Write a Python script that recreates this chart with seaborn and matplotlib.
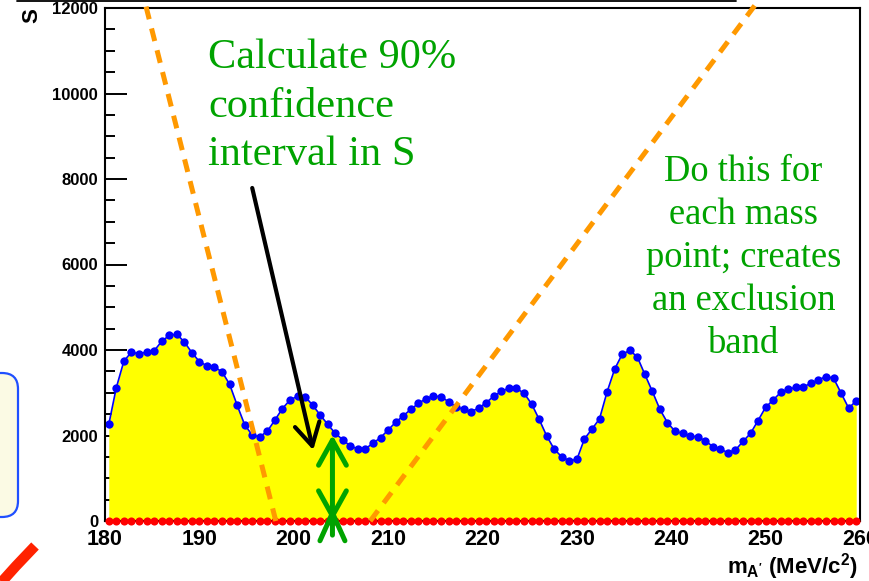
import numpy as np
import matplotlib
matplotlib.use("Agg")
import matplotlib.pyplot as plt
from matplotlib.patches import FancyBboxPatch
from matplotlib.lines import Line2D
from matplotlib.ticker import MultipleLocator, FixedLocator
import seaborn as sns

# Mass points (MeV/c^2): centres of the 0.8 MeV wide bins between 180 and 260
mass = np.arange(180.4, 260.0, 0.8)

# Upper end of the 90% confidence interval in S at each mass point
s_upper = [
    2260, 3120, 3740, 3950, 3910, 3950, 3980, 4200, 4340, 4370,
    4190, 3940, 3730, 3630, 3600, 3490, 3200, 2710, 2250, 2010,
    1970, 2100, 2360, 2630, 2830, 2920, 2910, 2710, 2480, 2260,
    2050, 1900, 1750, 1690, 1690, 1820, 1950, 2130, 2310, 2460,
    2610, 2750, 2860, 2920, 2910, 2790, 2670, 2610, 2560, 2640,
    2770, 2920, 3030, 3110, 3100, 2990, 2740, 2380, 1990, 1680,
    1500, 1410, 1440, 1920, 2150, 2390, 3020, 3550, 3900, 3990,
    3840, 3430, 3030, 2610, 2300, 2100, 2050, 2000, 1960, 1880,
    1740, 1680, 1600, 1660, 1860, 2050, 2350, 2660, 2830, 3010,
    3080, 3130, 3140, 3220, 3300, 3380, 3340, 2990, 2640, 2810,
]

# Lower end of the interval
s_lower = [0] * len(s_upper)

x_ticks = [180, 190, 200, 210, 220, 230, 240, 250, 260]
y_ticks = [0, 2000, 4000, 6000, 8000, 10000, 12000]

# Sketched scan lines and the example mass point
scan_left = {"m": [198.1, 184.1], "s": [0, 12250]}
scan_right = {"m": [208.1, 249.5], "s": [0, 12250]}
example_mass = 204.1
example_upper = 2010

sns.set_theme(style="white")
plt.rcParams["font.family"] = ["Liberation Sans", "DejaVu Sans"]
plt.rcParams["mathtext.fontset"] = "custom"
plt.rcParams["mathtext.rm"] = "Liberation Sans:bold"
plt.rcParams["mathtext.bf"] = "Liberation Sans:bold"
plt.rcParams["mathtext.it"] = "Liberation Sans:bold"

W, H = 869, 581
fig = plt.figure(figsize=(W / 100, H / 100), dpi=100)
fig.patch.set_facecolor("white")
ax = fig.add_axes([105 / W, 60 / H, 755 / W, 513 / H])
ax.set_facecolor("white")

GREEN = "#00a300"
ORANGE = "#ff9900"

# Filled band under the upper limit
ax.fill_between(mass, s_lower, s_upper, color="#ffff00", linewidth=0, zorder=1)
sns.lineplot(x=mass, y=s_upper, ax=ax, color="#0000ff", linewidth=1.2,
             marker="o", markersize=6.0, markeredgewidth=0, zorder=3)
sns.scatterplot(x=mass, y=s_lower, ax=ax, color="#ff0000", s=34, linewidth=0,
                clip_on=False, zorder=6)

ax.set_xlim(180, 260)
ax.set_ylim(0, 12000)
ax.set_xlabel("")
ax.set_ylabel("")
ax.set_axisbelow(True)

ax.xaxis.set_major_locator(FixedLocator(x_ticks))
ax.yaxis.set_major_locator(FixedLocator(y_ticks))
ax.yaxis.set_minor_locator(MultipleLocator(500))
ax.set_xticklabels([str(t) for t in x_ticks])
ax.set_yticklabels([str(t) for t in y_ticks])
ax.tick_params(axis="y", which="major", direction="in", length=16, width=1.4,
               labelsize=12, pad=5, left=True, right=False, color="black")
ax.tick_params(axis="y", which="minor", direction="in", length=7, width=1.4,
               left=True, right=False, color="black")
ax.tick_params(axis="x", which="major", direction="in", length=16, width=1.4,
               labelsize=15.5, pad=6, bottom=True, top=False, color="black")
for lab in ax.get_xticklabels() + ax.get_yticklabels():
    lab.set_fontweight("bold")
    lab.set_color("black")

for side in ["left", "right", "top", "bottom"]:
    ax.spines[side].set_visible(True)
    ax.spines[side].set_color("black")
    ax.spines[side].set_linewidth(1.5)
    ax.spines[side].set_zorder(4)

# Dashed scan lines
for line in (scan_left, scan_right):
    l, = ax.plot(line["m"], line["s"], color=ORANGE, linewidth=3.6,
                 solid_capstyle="butt", dash_capstyle="butt",
                 clip_on=False, zorder=7)
    l.set_dashes([2.6, 1.9])

# Black pointer arrow
ax.annotate("", xy=(202.06, 1660), xytext=(195.6, 7790),
            arrowprops=dict(arrowstyle="->,head_length=0.8,head_width=0.45",
                            lw=3, color="black", shrinkA=0, shrinkB=0,
                            mutation_scale=20),
            annotation_clip=False, zorder=8)

# Green interval arrows
ax.annotate("", xy=(example_mass, example_upper), xytext=(example_mass, 0),
            arrowprops=dict(arrowstyle="<->,head_length=0.9,head_width=0.5",
                            lw=3.6, color=GREEN, shrinkA=0, shrinkB=0,
                            mutation_scale=20),
            annotation_clip=False, zorder=8)
ax.annotate("", xy=(example_mass, 330), xytext=(example_mass, -330),
            arrowprops=dict(arrowstyle="->,head_length=1.0,head_width=0.45",
                            lw=3.6, color=GREEN, shrinkA=0, shrinkB=0,
                            mutation_scale=20),
            annotation_clip=False, zorder=8)


def fx(px):
    return px / W


def fy(py):
    return 1 - py / H


# Axis titles
fig.text(fx(858), fy(573), r"m$_{\mathbf{A'}}$ (MeV/c$^{\mathbf{2}}$)",
         ha="right", va="baseline", fontsize=16, fontweight="bold", color="black")
fig.text(fx(32), fy(8), "S", rotation=90, ha="center", va="top",
         fontsize=16, fontweight="bold", color="black")

# Green notes
serif = ["Liberation Serif", "DejaVu Serif"]
for i, line in enumerate(["Calculate 90%", "confidence", "interval in S"]):
    fig.text(fx(208), fy(68.3 + 48.3 * i), line, ha="left", va="baseline",
             fontsize=30.5, color=GREEN, family=serif, fontweight="normal")
for i, line in enumerate(["Do this for", "each mass", "point; creates",
                          "an exclusion", "band"]):
    fig.text(fx(743.5), fy(180.6 + 43.2 * i), line, ha="center", va="baseline",
             fontsize=26.3, color=GREEN, family=serif, fontweight="normal")

# Slide decorations around the plot
inch = fig.dpi_scale_trans
box = FancyBboxPatch((-30 / 100, (H - 517) / 100), 48 / 100, 144 / 100,
                     boxstyle="round,pad=0,rounding_size=0.16",
                     facecolor="#fbfae4", edgecolor="#1f4fff", linewidth=1.6,
                     transform=inch, clip_on=False)
fig.patches.append(box)
fig.add_artist(Line2D([-2 / 100, 16 / 100, 35 / 100],
                      [(H - 586) / 100, (H - 566) / 100, (H - 546) / 100],
                      transform=inch, color="#ff2200", linewidth=7.5,
                      solid_capstyle="butt"))
fig.add_artist(Line2D([17 / 100, 736 / 100], [(H - 0.8) / 100, (H - 0.8) / 100],
                      transform=inch, color="black", linewidth=1.3))

fig.savefig("out.png", dpi=100, facecolor="white")
